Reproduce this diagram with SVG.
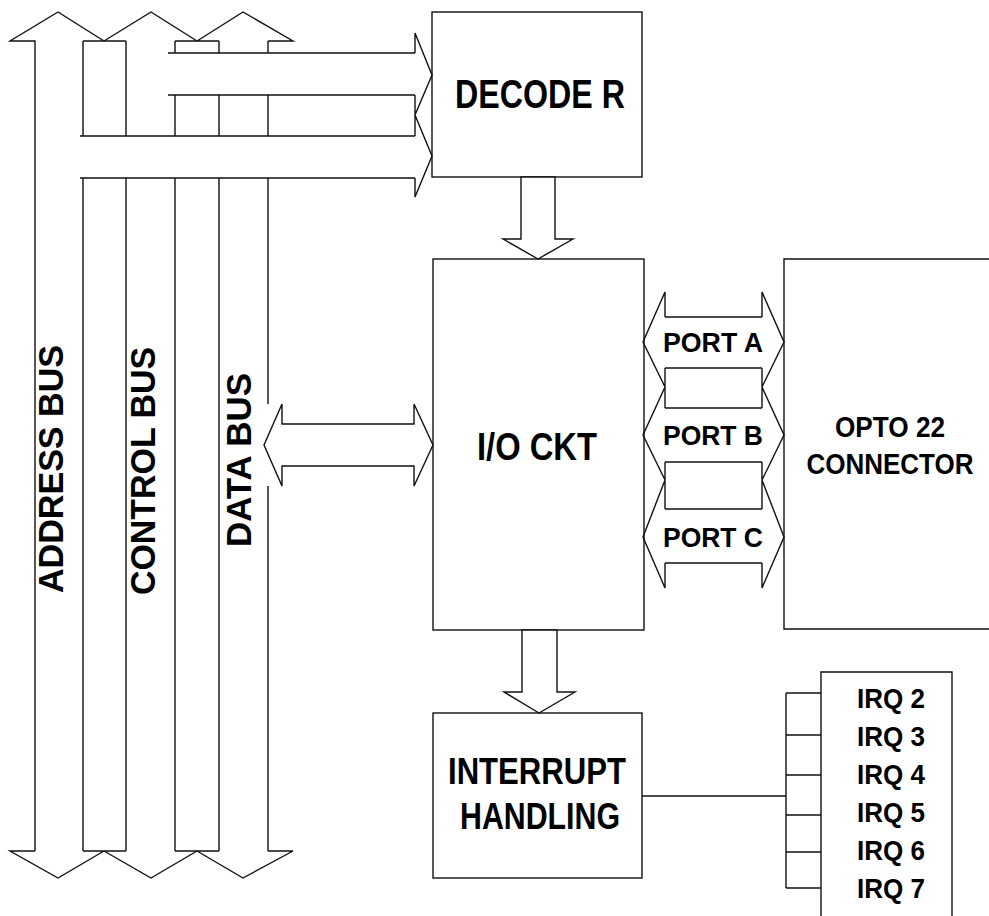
<svg xmlns="http://www.w3.org/2000/svg" width="989" height="916" viewBox="0 0 989 916">
<style>
.ln{fill:none;stroke:#111;stroke-width:1.4;stroke-linejoin:miter}
.box{fill:#fff;stroke:#111;stroke-width:1.4}
.ar{fill:#fff;stroke:#111;stroke-width:1.4;stroke-linejoin:miter}
.t{font-family:"Liberation Sans",Arial,Helvetica,sans-serif;font-weight:bold;fill:#000}
</style>
<rect width="989" height="916" fill="#fff"/>
<g id="address-bus">
<path class="ln" d="M35,851 V41 H10 L58,12 L104,41 M83,41 H126 M83,41 V136 M83,178 V851 M35,851 H10 L58,878 L104,851 M83,851 H126"/>
<text class="t" font-size="35" text-anchor="middle" transform="translate(63,469) rotate(-90)" textLength="248" lengthAdjust="spacingAndGlyphs">ADDRESS BUS</text>
</g>
<g id="control-bus">
<path class="ln" d="M104,41 L151,12 L197,41 M126,41 V136 M126,178 V851 M104,851 L151,878 L197,851"/>
<text class="t" font-size="35" text-anchor="middle" transform="translate(155,471) rotate(-90)" textLength="248" lengthAdjust="spacingAndGlyphs">CONTROL BUS</text>
</g>
<g id="data-bus">
<path class="ln" d="M197,41 L243,12 L293,41 H268 M175,41 H219 M175,41 V53 M219,41 V53 M268,41 V53 M175,95 V136 M219,95 V136 M268,95 V136 M175,178 V851 M219,178 V851 M268,178 V404 M268,486 V851 M197,851 L243,878 L293,851 H268 M175,851 H219"/>
<text class="t" font-size="35" text-anchor="middle" transform="translate(251,460) rotate(-90)" textLength="174" lengthAdjust="spacingAndGlyphs">DATA BUS</text>
</g>
<g id="decoder">
<rect class="box" x="432" y="12" width="210" height="165"/>
<text class="t" x="540" y="108" font-size="40" text-anchor="middle" textLength="170" lengthAdjust="spacingAndGlyphs">DECODE R</text>
</g>
<g id="io-ckt">
<rect class="box" x="433" y="259" width="211" height="371"/>
<text class="t" x="537" y="460" font-size="39" text-anchor="middle" textLength="120" lengthAdjust="spacingAndGlyphs">I/O CKT</text>
</g>
<g id="opto22">
<path class="box" d="M989,259 H784 V629 H989"/>
<text class="t" x="890" y="437" font-size="29" text-anchor="middle" textLength="110" lengthAdjust="spacingAndGlyphs">OPTO 22</text>
<text class="t" x="890" y="474" font-size="29" text-anchor="middle" textLength="167" lengthAdjust="spacingAndGlyphs">CONNECTOR</text>
</g>
<g id="interrupt">
<rect class="box" x="433" y="713" width="209" height="165"/>
<text class="t" x="537" y="784" font-size="36" text-anchor="middle" textLength="178" lengthAdjust="spacingAndGlyphs">INTERRUPT</text>
<text class="t" x="540" y="829" font-size="36" text-anchor="middle" textLength="160" lengthAdjust="spacingAndGlyphs">HANDLING</text>
</g>
<g id="irq">
<path class="box" d="M821,916 V672 H952 V916"/>
<text class="t" x="891" y="708" font-size="28" text-anchor="middle" textLength="68" lengthAdjust="spacingAndGlyphs">IRQ 2</text>
<text class="t" x="891" y="746" font-size="28" text-anchor="middle" textLength="68" lengthAdjust="spacingAndGlyphs">IRQ 3</text>
<text class="t" x="891" y="784" font-size="28" text-anchor="middle" textLength="68" lengthAdjust="spacingAndGlyphs">IRQ 4</text>
<text class="t" x="891" y="822" font-size="28" text-anchor="middle" textLength="68" lengthAdjust="spacingAndGlyphs">IRQ 5</text>
<text class="t" x="891" y="860" font-size="28" text-anchor="middle" textLength="68" lengthAdjust="spacingAndGlyphs">IRQ 6</text>
<text class="t" x="891" y="898" font-size="28" text-anchor="middle" textLength="68" lengthAdjust="spacingAndGlyphs">IRQ 7</text>
</g>
<g id="connectors">
<path class="ln" d="M168,53 H415 M168,95 H415 M80,136 H415 M80,178 H415 M415,53 V33 L432,75 L415,115 L432,156 L415,197 V178 M415,95 V136"/>
<polygon class="ar" points="264,445 282,404 282,424 414,424 414,404 433,445 414,486 414,466 282,466 282,486"/>
<polygon class="ar" points="521,177 521,239 503,239 538,259 573,239 555,239 555,177"/>
<polygon class="ar" points="522,630 522,692 504,692 539,713 575,692 557,692 557,630"/>
<path class="ln" d="M665,317 V292 L643,342 L665,387 L643,435 L665,480 L643,537 L665,588 V563 M762,317 V292 L784,342 L762,387 L784,435 L762,480 L784,537 L762,588 V563 M665,317 H762 M665,368 H762 M665,408 H762 M665,462 H762 M665,509 H762 M665,563 H762 M665,368 V408 M762,368 V408 M665,462 V509 M762,462 V509"/>
<text class="t" x="713" y="352" font-size="27" text-anchor="middle" textLength="100" lengthAdjust="spacingAndGlyphs">PORT A</text>
<text class="t" x="713" y="445" font-size="27" text-anchor="middle" textLength="100" lengthAdjust="spacingAndGlyphs">PORT B</text>
<text class="t" x="713" y="547" font-size="27" text-anchor="middle" textLength="100" lengthAdjust="spacingAndGlyphs">PORT C</text>
<path class="ln" d="M642,796 H786 M786,693 V888 M786,693 H821 M786,735 H821 M786,775 H821 M786,815 H821 M786,852 H821 M786,888 H821"/>
</g>
</svg>
